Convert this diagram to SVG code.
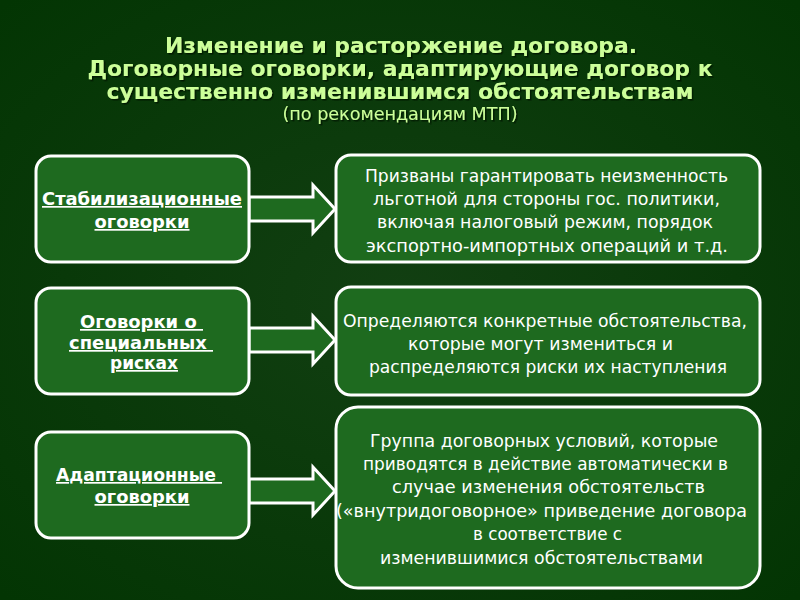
<svg xmlns="http://www.w3.org/2000/svg" width="800" height="600" viewBox="0 0 800 600">
<defs>
<radialGradient id="bg" cx="50%" cy="50%" r="70%">
<stop offset="0" stop-color="#123f12"/>
<stop offset="1" stop-color="#033503"/>
</radialGradient>
<filter id="shadow" x="-5%" y="-20%" width="110%" height="140%">
<feDropShadow dx="1.5" dy="1.5" stdDeviation="0.6" flood-color="#001500" flood-opacity="0.9"/>
</filter>
<style>
.box{fill:#1e6a1f;stroke:#ffffff;stroke-width:3}
.arr{fill:#1e6a1f;stroke:#ffffff;stroke-width:3;stroke-linejoin:miter}
.title{font-family:"DejaVu Sans","Liberation Sans",sans-serif;font-weight:bold;font-size:21px;fill:#ccff99;text-anchor:middle}
.sub{font-family:"DejaVu Sans","Liberation Sans",sans-serif;font-size:17px;fill:#ccff99;text-anchor:middle}
.lbl{font-family:"DejaVu Sans","Liberation Sans",sans-serif;font-weight:bold;font-size:17px;fill:#ffffff;text-anchor:middle;text-decoration:underline}
.txt{font-family:"DejaVu Sans","Liberation Sans",sans-serif;font-size:17px;fill:#ffffff;text-anchor:middle}
</style>
</defs>
<rect x="0" y="0" width="800" height="600" fill="url(#bg)"/>

<g id="title" filter="url(#shadow)">
<text class="title" x="401" y="53" textLength="472" lengthAdjust="spacingAndGlyphs">Изменение и расторжение договора.</text>
<text class="title" x="400" y="76" textLength="625" lengthAdjust="spacingAndGlyphs">Договорные оговорки, адаптирующие договор к</text>
<text class="title" x="400" y="99" textLength="587" lengthAdjust="spacingAndGlyphs">существенно изменившимся обстоятельствам</text>
<text class="sub" x="400" y="120" textLength="235" lengthAdjust="spacingAndGlyphs">(по рекомендациям МТП)</text>
</g>

<g id="connectors">
<polygon class="arr" points="249,197 313,197 313,185 335,209 313,233 313,221 249,221"/>
<polygon class="arr" points="249,328 313,328 313,316 335,340 313,364 313,352 249,352"/>
<polygon class="arr" points="249,479 313,479 313,467 335,491 313,515 313,503 249,503"/>
</g>

<g id="node-stab">
<rect class="box" x="36" y="156" width="213" height="106" rx="15"/>
<text class="lbl" x="142" y="205" textLength="200" lengthAdjust="spacingAndGlyphs">Стабилизационные</text>
<text class="lbl" x="142" y="228" textLength="95" lengthAdjust="spacingAndGlyphs">оговорки</text>
</g>

<g id="node-risk">
<rect class="box" x="36" y="288" width="213" height="106" rx="15"/>
<text class="lbl" x="141.5" y="328" textLength="123" lengthAdjust="spacingAndGlyphs" xml:space="preserve">Оговорки о </text>
<text class="lbl" x="141" y="349" textLength="144" lengthAdjust="spacingAndGlyphs" xml:space="preserve">специальных </text>
<text class="lbl" x="144" y="369" textLength="68" lengthAdjust="spacingAndGlyphs">рисках</text>
</g>

<g id="node-adapt">
<rect class="box" x="36" y="432" width="213" height="106" rx="15"/>
<text class="lbl" x="139" y="481" textLength="166" lengthAdjust="spacingAndGlyphs" xml:space="preserve">Адаптационные </text>
<text class="lbl" x="142" y="503" textLength="95" lengthAdjust="spacingAndGlyphs">оговорки</text>
</g>

<g id="desc-stab">
<rect class="box" x="336" y="155" width="424" height="107" rx="15"/>
<text class="txt" x="546.5" y="182" textLength="363" lengthAdjust="spacingAndGlyphs">Призваны гарантировать неизменность</text>
<text class="txt" x="546.5" y="205" textLength="347" lengthAdjust="spacingAndGlyphs">льготной для стороны гос. политики,</text>
<text class="txt" x="545" y="228" textLength="336" lengthAdjust="spacingAndGlyphs">включая налоговый режим, порядок</text>
<text class="txt" x="547" y="252" textLength="362" lengthAdjust="spacingAndGlyphs">экспортно-импортных операций и т.д.</text>
</g>

<g id="desc-risk">
<rect class="box" x="336" y="287" width="424" height="108" rx="15"/>
<text class="txt" x="545" y="327" textLength="404" lengthAdjust="spacingAndGlyphs">Определяются конкретные обстоятельства,</text>
<text class="txt" x="540.5" y="350" textLength="265" lengthAdjust="spacingAndGlyphs">которые могут измениться и</text>
<text class="txt" x="548" y="373" textLength="358" lengthAdjust="spacingAndGlyphs">распределяются риски их наступления</text>
</g>

<g id="desc-adapt">
<rect class="box" x="336" y="407" width="424" height="181" rx="22"/>
<text class="txt" x="544" y="447" textLength="348" lengthAdjust="spacingAndGlyphs">Группа договорных условий, которые</text>
<text class="txt" x="545.5" y="470" textLength="365" lengthAdjust="spacingAndGlyphs">приводятся в действие автоматически в</text>
<text class="txt" x="548.5" y="493" textLength="313" lengthAdjust="spacingAndGlyphs">случае изменения обстоятельств</text>
<text class="txt" x="541.5" y="517" textLength="411" lengthAdjust="spacingAndGlyphs">(«внутридоговорное» приведение договора</text>
<text class="txt" x="547.5" y="540" textLength="149" lengthAdjust="spacingAndGlyphs">в соответствие с</text>
<text class="txt" x="541.5" y="564" textLength="323" lengthAdjust="spacingAndGlyphs">изменившимися обстоятельствами</text>
</g>
</svg>
